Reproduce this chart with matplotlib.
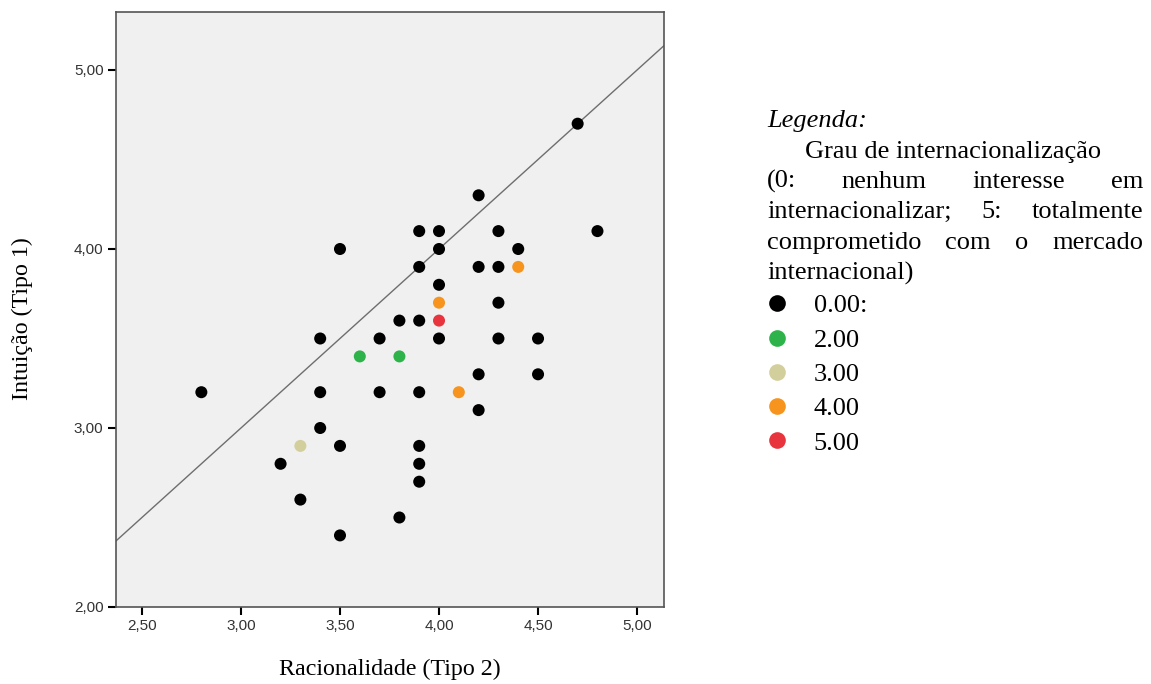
import matplotlib
matplotlib.use("Agg")
import matplotlib.pyplot as plt
from matplotlib.lines import Line2D
from matplotlib.ticker import FuncFormatter

# dados
racionalidade = [2.8, 3.2, 3.3, 3.3, 3.4, 3.4, 3.4, 3.5, 3.5, 3.5, 3.6, 3.7, 3.7, 3.8, 3.8,
                 3.8, 3.9, 3.9, 3.9, 3.9, 3.9, 3.9, 3.9, 4.0, 4.0, 4.0, 4.0, 4.0, 4.0, 4.1,
                 4.2, 4.2, 4.2, 4.2, 4.3, 4.3, 4.3, 4.3, 4.4, 4.4, 4.5, 4.5, 4.7, 4.8]
intuicao = [3.2, 2.8, 2.6, 2.9, 3.5, 3.2, 3.0, 4.0, 2.9, 2.4, 3.4, 3.5, 3.2, 3.6, 3.4,
            2.5, 4.1, 3.9, 3.6, 3.2, 2.9, 2.8, 2.7, 4.1, 4.0, 3.8, 3.7, 3.6, 3.5, 3.2,
            4.3, 3.9, 3.3, 3.1, 4.1, 3.9, 3.7, 3.5, 4.0, 3.9, 3.5, 3.3, 4.7, 4.1]
grau = [0, 0, 0, 3, 0, 0, 0, 0, 0, 0, 2, 0, 0, 0, 2,
        0, 0, 0, 0, 0, 0, 0, 0, 0, 0, 0, 4, 5, 0, 4,
        0, 0, 0, 0, 0, 0, 0, 0, 0, 4, 0, 0, 0, 0]

niveis = [0, 2, 3, 4, 5]
rotulos = ["0.00:", "2.00", "3.00", "4.00", "5.00"]
cores = {0: "#000000", 2: "#2db34a", 3: "#d3cf9c", 4: "#f7941d", 5: "#e8343c"}

xticks = [2.5, 3.0, 3.5, 4.0, 4.5, 5.0]
yticks = [2.0, 3.0, 4.0, 5.0]

W, H = 1151, 684
fig = plt.figure(figsize=(W / 100, H / 100), dpi=100)
ax = fig.add_axes([116 / W, 1 - 607 / H, 548 / W, 595 / H])
ax.set_facecolor("#f0f0f0")

ax.set_xlim(2.369, 5.136)
ax.set_ylim(2.0, 5.324)

# linha de referencia y = x
ax.plot([2.0, 5.5], [2.0, 5.5], color="#6e6e6e", lw=1.0, zorder=1)

ax.scatter(racionalidade, intuicao, c=[cores[g] for g in grau], s=75,
           edgecolors="none", zorder=3)

fmt = FuncFormatter(lambda v, p: f"{v:.2f}".replace(".", ","))
ax.set_xticks(xticks)
ax.set_yticks(yticks)
ax.xaxis.set_major_formatter(fmt)
ax.yaxis.set_major_formatter(fmt)
ax.tick_params(direction="out", length=6, width=1.5, color="black",
               labelsize=11, labelcolor="#333333", pad=3)
for lab in ax.get_xticklabels() + ax.get_yticklabels():
    lab.set_family("Liberation Sans")
for s in ax.spines.values():
    s.set_color("#555555")
    s.set_linewidth(1.2)

serif = "Liberation Serif"
fig.text(390 / W, 1 - 669 / H, "Racionalidade (Tipo 2)", family=serif,
         fontsize=17.3, ha="center", va="center")
fig.text(22 / W, 1 - 319 / H, "Intuição (Tipo 1)", family=serif,
         fontsize=17.3, ha="center", va="center", rotation=90)

# legenda (texto justificado)
fs = 19
x0, x1 = 767, 1143
renderer = fig.canvas.get_renderer()


def linha_justificada(palavras, base):
    objs = [fig.text(0, 1 - base / H, p, family=serif, fontsize=fs, va="baseline")
            for p in palavras]
    larg = [o.get_window_extent(renderer).width for o in objs]
    esp = (x1 - x0 - sum(larg)) / (len(palavras) - 1)
    x = x0
    for o, w in zip(objs, larg):
        o.set_x(x / W)
        x += w + esp


fig.text(x0 / W, 1 - 127 / H, "Legenda:", family=serif, fontsize=fs,
         style="italic", va="baseline")
fig.text(805 / W, 1 - 158 / H, "Grau de internacionalização", family=serif,
         fontsize=fs, va="baseline")
linha_justificada(["(0:", "nenhum", "interesse", "em"], 188)
linha_justificada(["internacionalizar;", "5:", "totalmente"], 218)
linha_justificada(["comprometido", "com", "o", "mercado"], 249)
fig.text(x0 / W, 1 - 280 / H, "internacional)", family=serif, fontsize=fs,
         va="baseline")

handles = [Line2D([], [], ls="none", marker="o", ms=12, mfc=cores[n], mec="none")
           for n in niveis]
fig.legend(handles, rotulos, loc="upper left", bbox_to_anchor=(769 / W, 1 - 294 / H),
           frameon=False, prop={"family": serif, "size": fs}, borderpad=0,
           borderaxespad=0, handlelength=0.6, handletextpad=1.1, labelspacing=0.41)

fig.savefig("out.png", dpi=100)
